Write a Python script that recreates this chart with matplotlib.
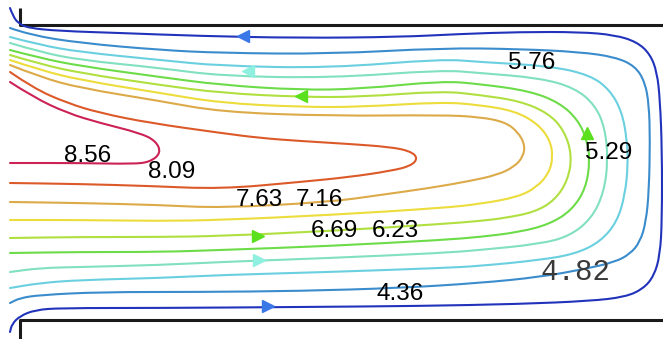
import matplotlib.pyplot as plt
from matplotlib.path import Path
from matplotlib.patches import PathPatch

# stream function levels and streamlines (pixel-like coords, y down)
LEVELS = [4.36, 4.82, 5.29, 5.76, 6.23, 6.69, 7.16, 7.63, 8.09, 8.56]

L436 = [(10, 8), (13, 16), (18, 23), (28, 28), (60, 31), (120, 33), (200, 36), (300, 38), (400, 37),
        (460, 34), (520, 32), (580, 32), (615, 35), (637, 42), (650, 54), (657, 72), (660, 100),
        (662, 150), (662, 220), (660, 255), (654, 276), (643, 289), (625, 297), (590, 301), (520, 304),
        (420, 306), (300, 307), (160, 308), (60, 308), (35, 310), (20, 316), (12, 324), (10, 332)]
L482 = [(10, 28), (30, 35), (80, 43), (160, 50), (221, 53), (330, 54), (442, 48), (520, 49), (580, 52),
        (615, 57), (635, 66), (645, 82), (649, 105), (650, 140), (649, 190), (646, 222), (640, 242),
        (630, 254), (615, 262), (585, 269), (540, 277), (480, 283), (400, 288), (300, 291), (200, 292),
        (100, 292), (40, 295), (20, 298), (10, 303)]
L529 = [(10, 37), (40, 45), (80, 52), (160, 60), (221, 66), (330, 68), (442, 59), (480, 62), (550, 66),
        (590, 75), (610, 90), (622, 112), (627, 140), (628, 165), (625, 195), (617, 222), (600, 242),
        (575, 254), (540, 260), (480, 266), (442, 268), (330, 272), (221, 275), (160, 278), (80, 280),
        (40, 283), (10, 288)]
L576 = [(10, 43), (40, 52), (80, 60), (160, 68), (221, 76), (330, 78), (442, 70), (480, 73), (540, 78),
        (575, 88), (595, 105), (605, 128), (608, 160), (604, 192), (592, 218), (570, 236), (540, 244),
        (480, 250), (442, 253), (330, 258), (221, 262), (160, 265), (80, 267), (40, 268), (10, 272)]
L623 = [(10, 50), (40, 58), (80, 66), (160, 77), (221, 85), (300, 90), (360, 89), (442, 81), (480, 84),
        (530, 91), (560, 103), (578, 120), (587, 140), (590, 160), (586, 188), (572, 210), (550, 224),
        (520, 232), (480, 237), (442, 240), (330, 246), (221, 250), (160, 252), (80, 252), (10, 253)]
L669 = [(10, 55), (40, 64), (80, 73), (160, 85), (221, 93), (300, 97), (360, 97), (442, 91), (480, 95),
        (520, 101), (548, 113), (564, 130), (572, 155), (568, 180), (555, 200), (535, 212), (505, 218),
        (480, 221), (442, 224), (330, 231), (221, 236), (160, 237), (80, 237), (10, 238)]
L716 = [(10, 60), (40, 70), (80, 80), (160, 93), (221, 103), (300, 107), (360, 107), (442, 102),
        (480, 105), (515, 111), (538, 124), (550, 140), (553, 157), (549, 173), (537, 187), (518, 197),
        (480, 204), (442, 208), (330, 215), (221, 220), (160, 221), (80, 220), (10, 220)]
L763 = [(10, 65), (40, 77), (80, 88), (160, 101), (221, 112), (330, 116), (442, 115), (480, 117),
        (505, 122), (518, 132), (525, 145), (523, 157), (514, 167), (497, 175), (470, 181), (430, 188),
        (380, 195), (330, 202), (221, 208), (160, 205), (80, 203), (10, 202)]
L809 = [(10, 72), (33, 88), (67, 103), (100, 113), (150, 123), (221, 133), (260, 138), (300, 141),
        (350, 144), (390, 147), (410, 151), (418, 158), (411, 166), (390, 171), (350, 177), (300, 182),
        (221, 189), (150, 186), (80, 184), (10, 183)]
L856 = [(10, 82), (33, 97), (67, 113), (100, 123), (140, 133), (156, 141), (161, 153), (150, 162),
        (133, 164), (80, 163), (10, 163)]

STREAMLINES = [L436, L482, L529, L576, L623, L669, L716, L763, L809, L856]

# flow direction arrows: x, y, direction
ARROWS = [(243, 36, '<'), (248, 71, '<'), (301, 96, '<'),
          (258, 236, '>'), (259, 260, '>'), (268, 306, '>'), (587, 133, '^')]

# channel walls
WALLS = [[(20, 8), (20, 25), (663, 25)], [(20, 339), (20, 320), (663, 320)]]

# styling
COLORS = ['#2233bb', '#3a8ccc', '#6ad0e0', '#80e0c0', '#6cdc48',
          '#b0e040', '#ecdc3c', '#dcaa48', '#dc5a2a', '#cc2255']
ARROW_COLORS = ['#3b78e7', '#8ff0e0', '#5be01e', '#5be01e', '#8ff0e0', '#3b78e7', '#5be01e']
LABEL_POS = {4.36: (400, 294), 4.82: (576, 272), 5.29: (609, 153), 5.76: (532, 63),
             6.23: (395, 231), 6.69: (334, 231), 7.16: (319, 200), 7.63: (259, 200),
             8.09: (172, 172), 8.56: (88, 156)}


def smooth_path(pts):
    # quadratic bezier through midpoints, read points act as control points
    verts = [pts[0]]
    codes = [Path.MOVETO]
    for i in range(1, len(pts) - 1):
        mid = ((pts[i][0] + pts[i + 1][0]) / 2, (pts[i][1] + pts[i + 1][1]) / 2)
        verts += [pts[i], mid]
        codes += [Path.CURVE3, Path.CURVE3]
    verts.append(pts[-1])
    codes.append(Path.LINETO)
    return Path(verts, codes)


fig = plt.figure(figsize=(6.63, 3.39), dpi=100)
ax = fig.add_axes([0, 0, 1, 1])
ax.set_xlim(0, 663)
ax.set_ylim(339, 0)
ax.axis('off')

for wall in WALLS:
    wx, wy = zip(*wall)
    ax.plot(wx, wy, color='#1a1a1a', lw=2.2, solid_capstyle='butt', zorder=1)

for pts, color in zip(STREAMLINES, COLORS):
    ax.add_patch(PathPatch(smooth_path(pts), fill=False, edgecolor=color, lw=1.5,
                           joinstyle='round', capstyle='round', zorder=2))

for (x, y, m), c in zip(ARROWS, ARROW_COLORS):
    ax.plot(x, y, marker=m, ms=9, color=c, mec=c, zorder=3)

for level in LEVELS:
    x, y = LABEL_POS[level]
    if level == 4.82:
        ax.text(x, y, f'{level:.2f}', ha='center', va='center', fontsize=21,
                family='Liberation Mono', color='#3a3a3a', zorder=4)
    else:
        ax.text(x, y, f'{level:.2f}', ha='center', va='center', fontsize=17.5,
                family='Liberation Sans', color='black', zorder=4)

fig.savefig('out.png', dpi=100)
